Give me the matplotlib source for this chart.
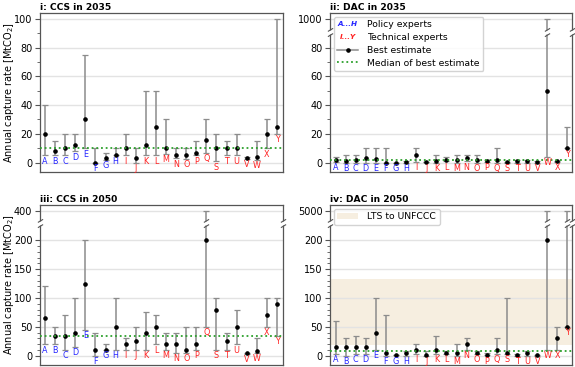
import numpy as np
import matplotlib
matplotlib.use("Agg")
import matplotlib.pyplot as plt
import matplotlib.transforms as mtrans
from matplotlib.legend_handler import HandlerBase
from matplotlib.text import Text
from matplotlib.lines import Line2D
from matplotlib.patches import Patch
from matplotlib.path import Path

# ---------------- data ----------------
experts = list("ABCDEFGHIJKLMNOPQSTUVWXY")
n_policy = 8

ccs2035_best = [20, 8, 10, 12, 30, 0, 3, 5, 10, 3, 12, 25, 10, 5, 5, 7, 16, 10, 10, 10, 3, 4, 20, 25]
ccs2035_low = [5, 5, 5, 8, 10, 0, 2, 5, 5, 0, 5, 5, 6, 3, 2.5, 5, 7, 1, 5, 5, 2.5, 2, 10, 20]
ccs2035_high = [40, 15, 20, 20, 75, 10, 7, 10, 20, 10, 50, 50, 30, 10, 10, 15, 30, 20, 15, 20, 4, 15, 30, 100]

dac2035_best = [2, 1, 2, 3, 2.5, 0, 0, 0.5, 5, 0.5, 1, 2, 2, 3, 2, 1, 2, 0.3, 1, 1, 0.5, 50, 1, 10]
dac2035_low = [0.5, 0, 0, 0, 0, 0, 0, 0, 0.5, 0.3, 0, 1, 0, 1, 0, 0.5, 0, 0, 0, 0, 0, 4, 0.5, 10]
dac2035_high = [4, 5, 5, 10, 10, 10, 0, 1, 10, 0.5, 5, 4, 5, 5, 5, 1.5, 10, 0.5, 2, 2, 1, 1000, 1, 25]

ccs2050_best = [65, 35, 35, 40, 125, 10, 10, 50, 20, 25, 40, 50, 20, 20, 10, 20, 200, 80, 25, 50, 4, 8, 70, 90]
ccs2050_low = [20, 20, 10, 15, 45, 0, 10, 10, 10, 10, 10, 20, 10, 5, 5, 10, 50, 10, 10, 20, 3, 5, 50, 35]
ccs2050_high = [120, 50, 70, 100, 200, 40, 20, 100, 30, 50, 75, 70, 40, 40, 50, 50, 400, 100, 40, 80, 5, 30, 100, 100]

dac2050_best = [15, 15, 15, 15, 40, 5, 2, 5, 10, 2, 10, 4, 5, 20, 5, 2, 10, 5, 2, 5, 0.5, 200, 30, 50]
dac2050_low = [3, 0, 3, 3, 10, 0, 1, 0, 3, 0, 3, 3, 0, 10, 3, 1, 3, 3, 0, 0, 0, 10, 10, 50]
dac2050_high = [60, 30, 35, 30, 100, 70, 2, 8, 20, 8, 35, 8, 20, 30, 8, 4, 30, 100, 3, 8, 1, 5000, 50, 5000]

lts_band = (19, 133)

titles = ["i: CCS in 2035", "ii: DAC in 2035", "iii: CCS in 2050", "iv: DAC in 2050"]
yticks = [[0, 20, 40, 60, 80, 100],
          [0, 20, 40, 60, 80, 1000],
          [0, 50, 100, 150, 200, 400],
          [0, 50, 100, 150, 200, 5000]]
ylabel = "Annual capture rate [MtCO$_2$]"

# ---------------- style ----------------
plt.rcParams['font.family'] = ['DejaVu Sans']
POLICY_C = '#2424ff'
TECH_C = '#ff2020'
BAR_C = '#8c8c8c'
MED_C = '#2ca02c'
BAND_C = '#f6eee0'
SPINE_C = '#555555'
GRID_C = '#e3e3e3'


def make_funcs(T, top_val, top_pos):
    k = (top_pos - T) / (top_val - T)

    def fwd(v):
        v = np.asarray(v, dtype=float)
        return np.where(v <= T, v, T + (v - T) * k)

    def inv(u):
        u = np.asarray(u, dtype=float)
        return np.where(u <= T, u, T + (u - T) / k)
    return fwd, inv


fig = plt.figure(figsize=(5.75, 3.67), dpi=100)
W, H = 575.0, 367.0


def add_ax(l, t, r, b):
    return fig.add_axes([l / W, 1 - b / H, (r - l) / W, (b - t) / H])


axes = [add_ax(40, 13, 283, 172), add_ax(330, 13, 572, 172),
        add_ax(40, 205, 283, 365), add_ax(330, 205, 572, 365)]

datasets = [(ccs2035_best, ccs2035_low, ccs2035_high),
            (dac2035_best, dac2035_low, dac2035_high),
            (ccs2050_best, ccs2050_low, ccs2050_high),
            (dac2050_best, dac2050_low, dac2050_high)]

# scale specs: (threshold, top value, top position, ylim, break position, broken bars)
scales = [None,
          (88, 1000, 100, (-6.5, 104), 90.5, [experts.index('W')]),
          (225, 400, 250, (-16, 261), 230, [experts.index('Q')]),
          (225, 5000, 250, (-16, 261), 230, [experts.index('W'), experts.index('Y')])]
xlims = [(-0.5, 23.6), (-0.55, 23.45), (-0.5, 23.6), (-0.55, 23.45)]

brk_path = Path([(-1, -1.6), (1, -0.4), (-1, 0.4), (1, 1.6)],
                [Path.MOVETO, Path.LINETO, Path.MOVETO, Path.LINETO])

x = np.arange(len(experts))
for i, ax in enumerate(axes):
    best, low, high = [np.asarray(a, float) for a in datasets[i]]
    sc = scales[i]
    if sc is None:
        ax.set_ylim(-6.5, 104)
        minors = list(range(10, 100, 20))
    else:
        fwd, inv = make_funcs(sc[0], sc[1], sc[2])
        ax.set_yscale('function', functions=(fwd, inv))
        ax.set_ylim(float(inv(sc[3][0])), float(inv(sc[3][1])))
        if i == 1:
            minors = list(range(10, 90, 20))
        else:
            minors = list(range(10, 200, 10))
    ax.set_xlim(*xlims[i])
    ax.set_yticks(yticks[i])
    ax.set_yticks(minors, minor=True)
    ax.set_xticks([])
    ax.tick_params(axis='y', which='major', labelsize=7, length=3.5, width=0.8, color=SPINE_C, pad=2)
    ax.tick_params(axis='y', which='minor', length=2, width=0.6, color=SPINE_C)
    ax.grid(axis='y', which='major', color=GRID_C, lw=1.0, zorder=0)
    ax.set_axisbelow(True)
    for s in ax.spines.values():
        s.set_color(SPINE_C)
        s.set_linewidth(0.9)

    if i == 3:
        ax.axhspan(lts_band[0], lts_band[1], color=BAND_C, zorder=0.5, lw=0)

    ax.errorbar(x, best, yerr=[best - low, high - best], fmt='o', ms=2.3,
                mfc='black', mec='black', ecolor=BAR_C, elinewidth=1.1,
                capsize=2.2, capthick=0.9, zorder=3)
    med = np.median(best)
    ax.axhline(med, color=MED_C, ls=(0, (1, 1.6)), lw=1.3, zorder=4)

    for j, name in enumerate(experts):
        ax.annotate(name, (x[j], low[j]), xytext=(0, -1.0), textcoords='offset points',
                    ha='center', va='top', fontsize=5.8,
                    color=POLICY_C if j < n_policy else TECH_C, zorder=5,
                    annotation_clip=False)

    ax.set_title(titles[i], loc='left', fontsize=6.6, fontweight='bold', pad=2.5)
    if i in (0, 2):
        ax.set_ylabel(ylabel, fontsize=7.0)
        ax.yaxis.set_label_coords(-0.1, 0.5)

    if sc is not None:
        ybrk = float(inv(sc[4]))
        bl = mtrans.blended_transform_factory(ax.transAxes, ax.transData)
        for xx in (0, 1):
            ax.plot([xx], [ybrk], marker='s', ms=3.2, mfc='white', mec='none',
                    transform=bl, clip_on=False, zorder=6)
            ax.plot([xx], [ybrk], marker=brk_path, ms=6, color=SPINE_C, mew=0.8,
                    transform=bl, clip_on=False, zorder=7, ls='none')
        for j in sc[5]:
            ax.plot([x[j]], [ybrk], marker='s', ms=3.2, mfc='white', mec='none', zorder=6)
            ax.plot([x[j]], [ybrk], marker=brk_path, ms=6, color=SPINE_C, mew=0.8,
                    zorder=7, ls='none')


class TextHandle:
    def __init__(self, text, color):
        self.text = text
        self.color = color


class TextHandler(HandlerBase):
    def create_artists(self, legend, orig_handle, xdescent, ydescent, width,
                       height, fontsize, trans):
        t = Text(x=width / 2 - xdescent, y=height / 2 - ydescent, text=orig_handle.text,
                 color=orig_handle.color, ha='center', va='center', fontsize=5.2,
                 fontstyle='italic', fontweight='bold', transform=trans)
        return [t]


h1 = TextHandle("A...H", POLICY_C)
h2 = TextHandle("I...Y", TECH_C)
h3 = Line2D([], [], color=BAR_C, lw=1.1, marker='o', ms=2.3, mfc='black', mec='black')
h4 = Line2D([], [], color=MED_C, ls=(0, (1, 1.6)), lw=1.3)
axes[1].legend([h1, h2, h3, h4],
               ["Policy experts", "Technical experts", "Best estimate", "Median of best estimate"],
               handler_map={TextHandle: TextHandler()}, loc='upper left', fontsize=6.7,
               handlelength=2.2, handletextpad=1.0, labelspacing=0.4,
               borderaxespad=0.4, framealpha=0.85, edgecolor='#cccccc')

axes[3].legend([Patch(facecolor=BAND_C, edgecolor='none')], ["LTS to UNFCCC"],
               loc='upper left', fontsize=6.7, handlelength=2.2, handletextpad=1.0,
               borderaxespad=0.4, framealpha=0.85, edgecolor='#cccccc')

fig.savefig("out.png", dpi=100)
